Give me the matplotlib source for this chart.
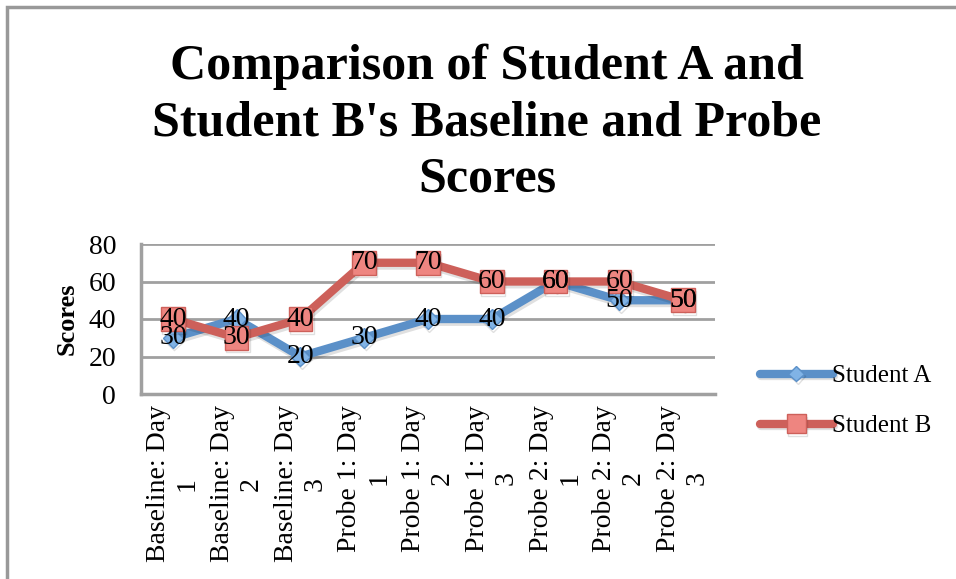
import matplotlib.pyplot as plt
import matplotlib.patheffects as pe
from matplotlib.patches import Rectangle

categories = ["Baseline: Day\n1", "Baseline: Day\n2", "Baseline: Day\n3",
              "Probe 1: Day\n1", "Probe 1: Day\n2", "Probe 1: Day\n3",
              "Probe 2: Day\n1", "Probe 2: Day\n2", "Probe 2: Day\n3"]
student_a = [30, 40, 20, 30, 40, 40, 60, 50, 50]
student_b = [40, 30, 40, 70, 70, 60, 60, 60, 50]

serif = "Liberation Serif"
W, H = 956, 579
fig = plt.figure(figsize=(W / 100, H / 100), dpi=100)

# outer chart frame
fig.patches.append(Rectangle((7 / W, -0.1), 1.2, 1.1 - 7 / H, transform=fig.transFigure,
                             fill=False, edgecolor="#999999", linewidth=2.5))

ax = fig.add_axes([141 / W, 1 - 394 / H, (715 - 141) / W, (394 - 244) / H])
x = range(len(categories))

shadow = [pe.SimpleLineShadow(offset=(1, -2), alpha=0.12, shadow_color="black"), pe.Normal()]
ax.plot(x, student_a, color="#5B90C8", linewidth=6, solid_capstyle="round",
        marker="D", markersize=10, markerfacecolor="#80B3E6", markeredgecolor="#5B90C8",
        label="Student A", path_effects=shadow, zorder=3)
ax.plot(x, student_b, color="#CD605A", linewidth=6, solid_capstyle="round",
        marker="s", markersize=17, markerfacecolor="#EE8580", markeredgecolor="#CD605A",
        label="Student B", path_effects=shadow, zorder=4)

for i, v in enumerate(student_a):
    ax.text(i, v, str(v), ha="center", va="center", fontsize=20, family=serif, zorder=5)
for i, v in enumerate(student_b):
    ax.text(i, v, str(v), ha="center", va="center", fontsize=20, family=serif, zorder=6)

ax.set_xlim(-0.5, len(categories) - 0.5)
ax.set_ylim(0, 80)
ax.set_yticks([0, 20, 40, 60, 80])
ax.set_xticks(list(x))
ax.set_xticklabels(categories, rotation=90, ha="center", va="top", multialignment="center")
ax.tick_params(axis="both", labelsize=20, length=0, colors="#999999", labelcolor="black")
for lab in ax.get_xticklabels() + ax.get_yticklabels():
    lab.set_family(serif)
ax.tick_params(axis="y", pad=18)
ax.tick_params(axis="x", pad=8)
ax.grid(axis="y", color="#A0A0A0", linewidth=2)
ax.set_axisbelow(True)
for s in ["top", "right"]:
    ax.spines[s].set_visible(False)
for s in ["left", "bottom"]:
    ax.spines[s].set_color("#A0A0A0")
    ax.spines[s].set_linewidth(2.5)

ax.set_ylabel("Scores", fontsize=19, fontweight="bold", family=serif, labelpad=7)

fig.text(487 / W, 1 - 123 / H, "Comparison of Student A and\nStudent B's Baseline and Probe\nScores",
         ha="center", va="center", fontsize=36, fontweight="bold", family=serif,
         linespacing=1.3)

ax.legend(loc="center left", bbox_to_anchor=(760 / W, 1 - 401 / H), bbox_transform=fig.transFigure,
          frameon=False, prop={"family": serif, "size": 18}, handlelength=2.9,
          handletextpad=0.0, labelspacing=1.1, borderpad=0, borderaxespad=0,
          markerscale=0.8)

fig.savefig("out.png", dpi=100)
